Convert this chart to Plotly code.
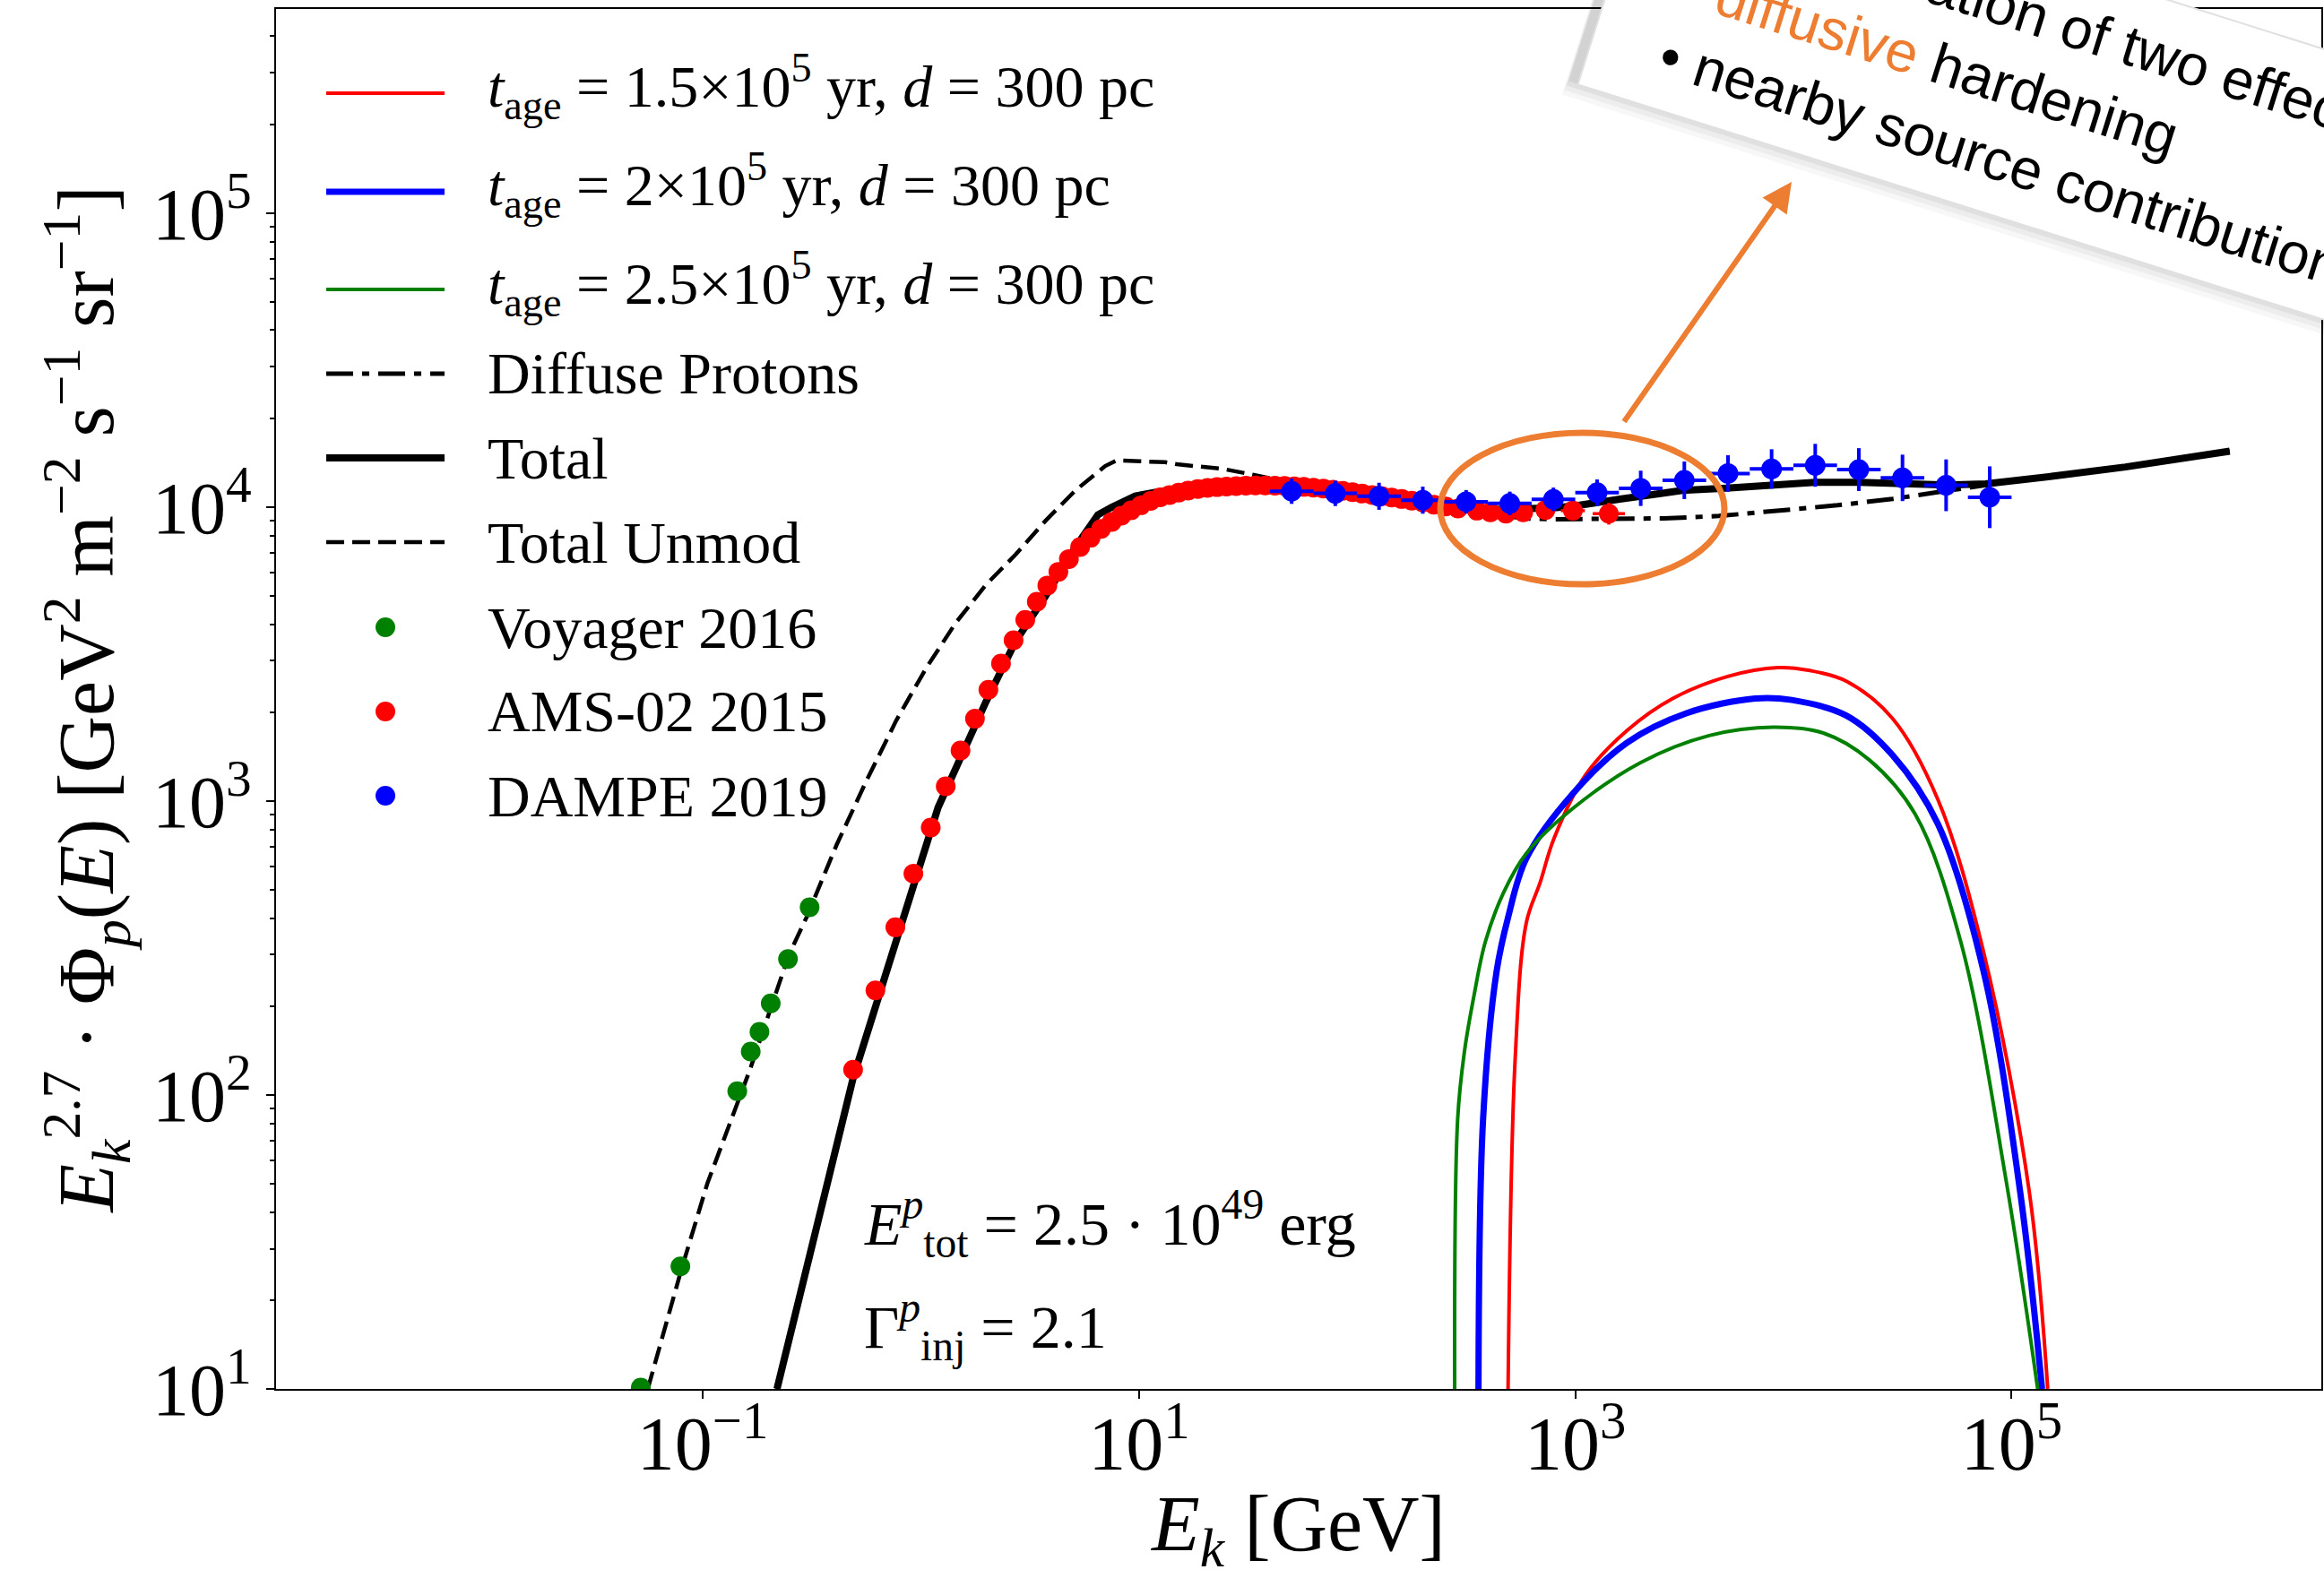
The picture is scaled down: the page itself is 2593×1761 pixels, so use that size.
import math
import plotly.graph_objects as go

# ---------------- data ----------------
voyager_E = [0.052, 0.079, 0.144, 0.166, 0.182, 0.205, 0.246, 0.309]
voyager_F = [10.1, 26.1, 103, 140.6, 164, 205, 290, 435]

ams_E = [0.489, 0.619, 0.764, 0.924, 1.11, 1.30, 1.52, 1.77, 2.04, 2.33,
         2.66, 3.01, 3.40, 3.80, 4.27, 4.77, 5.37, 6.0, 6.7, 7.5,
         8.3, 9.2, 10.2, 11.3, 12.5, 13.8, 15.2, 16.8, 18.6, 20.6,
         22.8, 25.2, 27.9, 30.9, 34.2, 37.9, 42.0, 46.5, 51.5, 57.0,
         63.1, 70.0, 77.5, 85.9, 95.2, 105.6, 117, 130, 144, 160,
         178, 200, 225, 255, 290, 354, 408, 481, 577, 730, 975, 1425]
ams_F = [122, 227, 372, 566, 813, 1122, 1486, 1906, 2393, 2937,
         3527, 4137, 4767, 5414, 6025, 6660, 7315, 7870, 8430, 8900,
         9350, 9750, 10150, 10500, 10800, 11000, 11200, 11380, 11520, 11620,
         11700, 11760, 11800, 11830, 11850, 11850, 11840, 11820, 11780, 11720,
         11650, 11560, 11460, 11360, 11250, 11120, 11000, 10900, 10780, 10660,
         10520, 10380, 10200, 10050, 9900, 9730, 9610, 9500, 9610, 9780, 9730, 9500]
ams_xerr_dex = [0.0] * 58 + [0.035, 0.045, 0.055, 0.074]
ams_yerr_dex = [0.0] * 60 + [0.02, 0.037]

dampe_E = [50.1, 79.4, 126, 200, 316, 501, 794, 1259, 1995, 3162,
           5012, 7943, 12589, 19953, 31623, 50119, 79433]
dampe_F = [11330, 11140, 10890, 10560, 10430, 10300, 10630, 11200, 11590, 12340,
           13020, 13490, 13880, 13420, 12580, 11870, 10810]
dampe_err_dex = [0.043, 0.043, 0.046, 0.046, 0.040, 0.040, 0.040, 0.045, 0.060, 0.064,
                 0.062, 0.067, 0.073, 0.073, 0.079, 0.088, 0.105]
dampe_bin_halfwidth_dex = 0.1

total_E = [0.219, 0.30, 0.40, 0.489, 0.62, 0.80, 1.0, 1.2, 1.5, 1.99,
           2.72, 3.73, 5.11, 6.48, 7.5, 9.6, 12, 15, 20, 25,
           31, 40, 50, 65, 92, 133, 191, 274, 400, 600,
           800, 1000, 1240, 1600, 2500, 3100, 4940, 7900, 12600, 20000,
           32000, 51000, 76000, 100000, 153000, 333000, 600000, 1000000]
total_F = [10, 26, 62, 114, 200, 364, 617, 952, 1373, 2180,
           3500, 4990, 7310, 9420, 10000, 10910, 11250, 11500, 11750, 11850,
           11900, 11900, 11850, 11650, 11250, 10800, 10350, 9950, 9800, 9850,
           9950, 10100, 10300, 10650, 11150, 11400, 11600, 11900, 12150, 12150,
           12050, 11900, 12000, 12250, 12730, 13700, 14600, 15500]

diffuse_E = [0.219, 0.30, 0.40, 0.489, 0.62, 0.80, 1.0, 1.2, 1.5, 1.99,
             2.72, 3.73, 5.11, 6.48, 7.5, 9.6, 12, 15, 20, 25,
             31, 40, 50, 65, 92, 133, 191, 274, 350, 450,
             600, 800, 1240, 2550, 4550, 8510, 15950, 28500, 48500, 60000,
             76000, 100000, 153000, 333000, 600000, 1000000]
diffuse_F = [10, 26, 62, 114, 200, 364, 617, 952, 1373, 2180,
             3500, 4990, 7310, 9420, 10000, 10910, 11250, 11500, 11750, 11850,
             11900, 11900, 11850, 11650, 11250, 10800, 10350, 9950, 9600, 9350,
             9150, 9100, 9100, 9160, 9330, 9730, 10150, 10670, 11320, 11600,
             11900, 12250, 12730, 13700, 14600, 15500]

unmod_E = [0.056, 0.0796, 0.105, 0.164, 0.248, 0.300, 0.411, 0.563, 0.771, 1.06,
           1.45, 1.99, 2.72, 3.73, 5.11, 7.0, 7.9, 10, 13.2, 15.2,
           21.1, 24.3, 33.6, 45, 60, 80, 92, 133, 191, 274,
           400, 600, 800, 1000, 1240, 1600, 2500, 3100, 4940, 7900,
           12600, 20000, 32000, 51000, 76000, 100000, 153000, 333000, 600000, 1000000]
unmod_F = [10, 25.3, 50, 121, 299, 404, 710, 1173, 1880, 2843,
           4055, 5450, 6900, 8990, 11400, 13800, 14420, 14350, 14220, 13970,
           13610, 13490, 12880, 12300, 11900, 11450, 11250, 10800, 10350, 9950,
           9800, 9850, 9950, 10100, 10300, 10650, 11150, 11400, 11600, 11900,
           12150, 12150, 12050, 11900, 12000, 12250, 12730, 13700, 14600, 15500]

src15_E = [492, 530, 597, 690, 798, 1117, 1726, 2797, 5000, 8500, 11900, 17500, 28400, 45900, 74400, 120700, 146500]
src15_F = [10, 132, 387, 528, 745, 1230, 1738, 2234, 2655, 2845, 2780, 2557, 1914, 1014, 307, 46.6, 10]
src20_E = [360, 378, 436, 492, 597, 968, 1726, 3230, 6670, 9820, 17500, 28400, 45900, 74400, 109600, 138000]
src20_F = [10, 83, 264, 402, 639, 1054, 1580, 1990, 2234, 2208, 1954, 1436, 837, 264, 46.6, 10]
src25_E = [280, 289, 311, 343, 387, 469, 597, 968, 1995, 4110, 8090, 13700, 22300, 36100, 58500, 94900, 131800]
src25_F = [10, 83, 142, 217, 332, 488, 664, 940, 1353, 1671, 1785, 1705, 1380, 904, 332, 50, 10]

x_tickvals = [0.1, 10, 1000, 100000]
x_ticktext = ["10<sup>\u22121</sup>", "10<sup>1</sup>", "10<sup>3</sup>", "10<sup>5</sup>"]
y_tickvals = [10, 100, 1000, 10000, 100000]
y_ticktext = ["10<sup>1</sup>", "10<sup>2</sup>", "10<sup>3</sup>", "10<sup>4</sup>", "10<sup>5</sup>"]

legend_labels = [
    "<i>t</i><sub>age</sub> = 1.5\u00d710<sup>5</sup> yr, <i>d</i> = 300 pc",
    "<i>t</i><sub>age</sub> = 2\u00d710<sup>5</sup> yr, <i>d</i> = 300 pc",
    "<i>t</i><sub>age</sub> = 2.5\u00d710<sup>5</sup> yr, <i>d</i> = 300 pc",
    "Diffuse Protons",
    "Total",
    "Total Unmod",
    "Voyager 2016",
    "AMS-02 2015",
    "DAMPE 2019",
]

# ---------------- geometry ----------------
W, H = 2593, 1761
ML, MR, MT, MB = 308, 3, 10, 211
PW = W - ML - MR
PH = H - MT - MB


def to_paper(px, py):
    return (px - ML) / PW, (H - MB - py) / PH


RED, BLUE, GREEN, ORANGE = "#ff0000", "#0000ff", "#008000", "#ED7D31"
SERIF = "Liberation Serif"
SANS = "Liberation Sans"

DASH_UNMOD = "20px,9px"
DASHDOT = "30px,10px,8px,10px"

fig = go.Figure()


def add_line(x, y, color, width, dash="solid", spline=False):
    fig.add_trace(go.Scatter(
        x=x, y=y, mode="lines",
        line=dict(color=color, width=width, dash=dash,
                  shape="spline" if spline else "linear", smoothing=1.0),
        showlegend=False, hoverinfo="skip"))


add_line(src15_E, src15_F, RED, 4, spline=True)
add_line(src20_E, src20_F, BLUE, 7, spline=True)
add_line(src25_E, src25_F, GREEN, 4, spline=True)
add_line(diffuse_E, diffuse_F, "black", 5, DASHDOT)
add_line(total_E, total_F, "black", 8)
add_line(unmod_E, unmod_F, "black", 4.5, DASH_UNMOD)

fig.add_trace(go.Scatter(
    x=voyager_E, y=voyager_F, mode="markers",
    marker=dict(color=GREEN, size=22, line=dict(width=0)),
    showlegend=False, hoverinfo="skip"))

fig.add_trace(go.Scatter(
    x=ams_E, y=ams_F, mode="markers",
    marker=dict(color=RED, size=22, line=dict(width=0)),
    error_x=dict(type="data", symmetric=False,
                 array=[e * (10 ** d - 1) for e, d in zip(ams_E, ams_xerr_dex)],
                 arrayminus=[e * (1 - 10 ** -d) for e, d in zip(ams_E, ams_xerr_dex)],
                 color=RED, thickness=3.5, width=0),
    error_y=dict(type="data", symmetric=False,
                 array=[f * (10 ** d - 1) for f, d in zip(ams_F, ams_yerr_dex)],
                 arrayminus=[f * (1 - 10 ** -d) for f, d in zip(ams_F, ams_yerr_dex)],
                 color=RED, thickness=3.5, width=0),
    showlegend=False, hoverinfo="skip"))

fig.add_trace(go.Scatter(
    x=dampe_E, y=dampe_F, mode="markers",
    marker=dict(color=BLUE, size=23, line=dict(width=0)),
    error_x=dict(type="data", symmetric=False,
                 array=[e * (10 ** dampe_bin_halfwidth_dex - 1) for e in dampe_E],
                 arrayminus=[e * (1 - 10 ** -dampe_bin_halfwidth_dex) for e in dampe_E],
                 color=BLUE, thickness=4, width=0),
    error_y=dict(type="data", symmetric=False,
                 array=[f * (10 ** d - 1) for f, d in zip(dampe_F, dampe_err_dex)],
                 arrayminus=[f * (1 - 10 ** -d) for f, d in zip(dampe_F, dampe_err_dex)],
                 color=BLUE, thickness=4, width=0),
    showlegend=False, hoverinfo="skip"))

shapes = []
annotations = []

# ---------------- manual legend ----------------
row_y = [97, 207, 316, 417, 511, 605, 700, 794, 888]
line_styles = [
    (RED, 4, "solid"), (BLUE, 7, "solid"), (GREEN, 4, "solid"),
    ("black", 5, DASHDOT), ("black", 8, "solid"), ("black", 4.5, DASH_UNMOD),
]
line_rows = [104, 214, 323, 417, 511, 605]
dot_colors = [GREEN, RED, BLUE]
for i, lab in enumerate(legend_labels):
    if i < 6:
        xp0, yl = to_paper(364, line_rows[i])
        xp1, _ = to_paper(496, line_rows[i])
        c, w, d = line_styles[i]
        shapes.append(dict(type="line", xref="paper", yref="paper",
                           x0=xp0, x1=xp1, y0=yl, y1=yl,
                           line=dict(color=c, width=w, dash=d)))
    else:
        xc, yl = to_paper(430, row_y[i])
        shapes.append(dict(type="circle", xref="paper", yref="paper",
                           xsizemode="pixel", ysizemode="pixel",
                           xanchor=xc, yanchor=yl, x0=-11, x1=11, y0=-11, y1=11,
                           fillcolor=dot_colors[i - 6], line=dict(width=0)))
    xt, yp = to_paper(542, row_y[i])
    annotations.append(dict(text=lab, xref="paper", yref="paper", x=xt, y=yp,
                            xanchor="left", yanchor="middle", showarrow=False,
                            font=dict(family=SERIF, size=66, color="black")))

# ---------------- parameter text ----------------
for txt, py in [("<i>E</i><sup><i>p</i></sup><sub>tot</sub> = 2.5 \u00b7 10<sup>49</sup> erg", 1365),
                ("\u0393<sup><i>p</i></sup><sub>inj</sub> = 2.1", 1480)]:
    xp, yp = to_paper(962, py)
    annotations.append(dict(text=txt, xref="paper", yref="paper", x=xp, y=yp,
                            xanchor="left", yanchor="middle", showarrow=False,
                            font=dict(family=SERIF, size=68, color="black")))

# ---------------- orange highlight ----------------
ex0, ey0 = to_paper(1607, 652)
ex1, ey1 = to_paper(1924, 483)
shapes.append(dict(type="circle", xref="paper", yref="paper",
                   x0=ex0, x1=ex1, y0=ey0, y1=ey1,
                   line=dict(color=ORANGE, width=7)))

tipx, tipy = to_paper(1999, 203)
annotations.append(dict(text="", xref="paper", yref="paper", x=tipx, y=tipy,
                        ax=1811 - 1999, ay=472 - 203, axref="pixel", ayref="pixel",
                        showarrow=True, arrowhead=2, arrowsize=1.1, arrowwidth=6,
                        arrowcolor=ORANGE, standoff=0, startstandoff=0))

# ---------------- rotated callout box with soft shadow ----------------
ANG = 17.5
BOX_CX, BOX_CY = 2232, 92          # box centre, px
BOX_HW, BOX_HH = 459, 138          # half width / half height, px
ca, sa = math.cos(math.radians(ANG)), math.sin(math.radians(ANG))


def rot_rect_path(cx, cy, hw, hh):
    pts = []
    for su, sv in [(-1, -1), (1, -1), (1, 1), (-1, 1)]:
        # u along text baseline, v towards the top of the box
        px = cx + su * hw * ca + sv * hh * sa
        py = cy + su * hw * sa - sv * hh * ca
        pts.append(to_paper(px, py))
    return "M " + " L ".join("%.5f,%.5f" % p for p in pts) + " Z"


for off, a in [(20, 0.03), (15, 0.04), (10, 0.05), (5, 0.06)]:
    shapes.append(dict(type="path", xref="paper", yref="paper",
                       path=rot_rect_path(BOX_CX - 0.5 * off, BOX_CY + off, BOX_HW, BOX_HH),
                       fillcolor="rgba(0,0,0,%g)" % a, line=dict(width=0)))

sp = "\u00a0\u00a0\u00a0"
callout = (sp + "\u2022 Combination of two effects<br>" +
           sp + "\u2022 <span style='color:" + ORANGE + "'>diffusive</span> hardening<br>" +
           sp + "\u2022 nearby source contribution")
bx, by = to_paper(BOX_CX, BOX_CY)
annotations.append(dict(text=callout, xref="paper", yref="paper", x=bx, y=by,
                        textangle=ANG, xanchor="center", yanchor="middle", align="left",
                        showarrow=False, bgcolor="white",
                        borderpad=24, borderwidth=2, bordercolor="#e0e0e0",
                        font=dict(family=SANS, size=64, color="black")))

axis_common = dict(type="log", showgrid=False, zeroline=False,
                   showline=True, linecolor="black", linewidth=2, mirror=True,
                   ticks="outside", ticklen=9, tickwidth=1.5, tickcolor="black",
                   tickfont=dict(family=SERIF, size=84, color="black"))

fig.update_layout(
    width=W, height=H,
    margin=dict(l=ML, r=MR, t=MT, b=MB, autoexpand=False),
    paper_bgcolor="white", plot_bgcolor="white",
    font=dict(family=SERIF, color="black"),
    showlegend=False,
    xaxis=dict(axis_common, range=[-2.956, 6.42],
               tickmode="array", tickvals=x_tickvals, ticktext=x_ticktext,
               ticklabelstandoff=-22,
               title=dict(text="<i>E</i><sub><i>k</i></sub> [GeV]",
                          font=dict(family=SERIF, size=88, color="black"), standoff=48)),
    yaxis=dict(axis_common, range=[1, 5.695],
               tickmode="array", tickvals=y_tickvals, ticktext=y_ticktext,
               tickfont=dict(family=SERIF, size=82, color="black"),
               minor=dict(ticks="outside", ticklen=5, tickwidth=1.5, tickcolor="black",
                          dtick="D1", showgrid=False),
               title=dict(text="<i>E</i><sub><i>k</i></sub><sup>2.7</sup> \u00b7 \u03a6<sub><i>p</i></sub>(<i>E</i>) "
                               "[GeV<sup>2</sup> m<sup>\u22122</sup> s<sup>\u22121</sup> sr<sup>\u22121</sup>]",
                          font=dict(family=SERIF, size=88, color="black"), standoff=14)),
    shapes=shapes,
    annotations=annotations,
)

fig.write_html("out.html",
               config={"displayModeBar": False},
               post_script="document.body.style.margin='0';document.body.style.overflow='hidden';")
